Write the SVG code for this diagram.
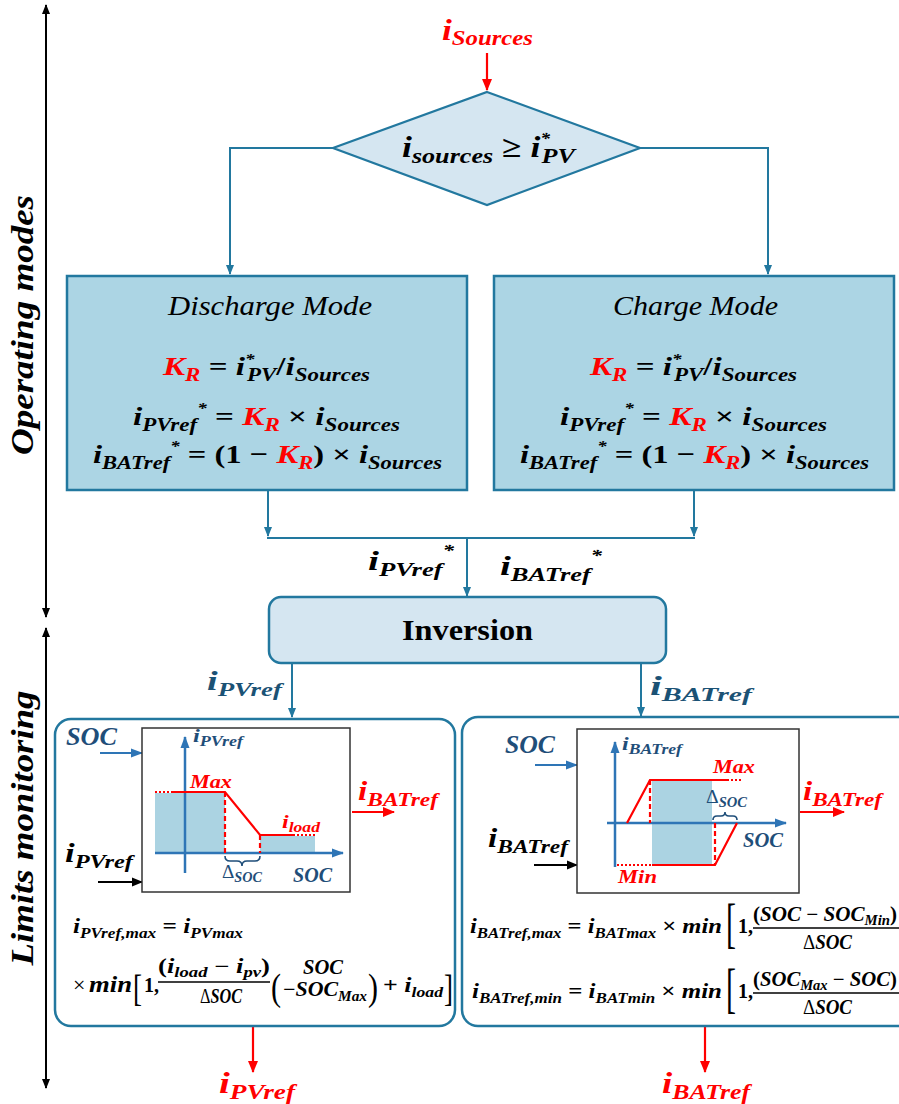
<svg xmlns="http://www.w3.org/2000/svg" width="899" height="1104" viewBox="0 0 899 1104">
<defs>
<style>
.m{font-family:"Liberation Serif","DejaVu Serif",serif;font-weight:bold;font-style:italic}
.u{font-style:normal}
.n{font-weight:normal;font-style:normal}
.r{fill:#ff0000}
.db{fill:#1f4e79}
.tl{fill:#1b5275}
.teal{stroke:#22789f;stroke-width:2;fill:none}
.red{stroke:#ff0000;stroke-width:2.2;fill:none}
.blk{stroke:#000;stroke-width:2;fill:none}
.ax{stroke:#2e75b6;stroke-width:2.5;fill:none}
.gf{fill:#abd3e2}
.br{font-family:"Liberation Serif","DejaVu Serif",serif;font-weight:normal}
</style>
<marker id="aT" markerWidth="10" markerHeight="10" refX="9" refY="5" orient="auto" markerUnits="userSpaceOnUse"><path d="M0,1 L10,5 L0,9 z" fill="#22789f"/></marker>
<marker id="aR" markerWidth="12" markerHeight="12" refX="11" refY="6" orient="auto" markerUnits="userSpaceOnUse"><path d="M0,1 L12,6 L0,11 z" fill="#ff0000"/></marker>
<marker id="aK" markerWidth="11" markerHeight="11" refX="10" refY="5.5" orient="auto" markerUnits="userSpaceOnUse"><path d="M0,1 L11,5.5 L0,10 z" fill="#000"/></marker>
<marker id="aKd" markerWidth="10" markerHeight="10" refX="9" refY="5" orient="auto-start-reverse" markerUnits="userSpaceOnUse"><path d="M0,1 L10,5 L0,9 z" fill="#000"/></marker>
<marker id="aB" markerWidth="12" markerHeight="12" refX="11" refY="6" orient="auto" markerUnits="userSpaceOnUse"><path d="M0,1.5 L12,6 L0,10.5 z" fill="#2e75b6"/></marker>
</defs>
<rect width="899" height="1104" fill="#fff"/>

<!-- side labels -->
<g id="side">
<line x1="46" y1="5" x2="46" y2="617" class="blk" marker-start="url(#aKd)" marker-end="url(#aKd)"/>
<line x1="46" y1="628" x2="46" y2="1088" class="blk" marker-start="url(#aKd)" marker-end="url(#aKd)"/>
<text class="m" font-size="32" text-anchor="middle" transform="translate(33,325) rotate(-90)" textLength="260" lengthAdjust="spacingAndGlyphs">Operating modes</text>
<text class="m" font-size="32" text-anchor="middle" transform="translate(33,828) rotate(-90)" textLength="275" lengthAdjust="spacingAndGlyphs">Limits monitoring</text>
</g>

<!-- connectors -->
<g id="connectors">
<line x1="487" y1="53" x2="487" y2="90" class="red" marker-end="url(#aR)"/>
<polyline points="333,148 230,148 230,274" class="teal" marker-end="url(#aT)"/>
<polyline points="640,148 768,148 768,274" class="teal" marker-end="url(#aT)"/>
<line x1="268" y1="490" x2="268" y2="536" class="teal" marker-end="url(#aT)"/>
<line x1="694" y1="490" x2="694" y2="536" class="teal" marker-end="url(#aT)"/>
<line x1="267" y1="538" x2="695" y2="538" class="teal"/>
<line x1="467" y1="538" x2="467" y2="596" class="teal" marker-end="url(#aT)"/>
<line x1="292" y1="663" x2="292" y2="717" class="teal" marker-end="url(#aT)"/>
<line x1="641" y1="663" x2="641" y2="716" class="teal" marker-end="url(#aT)"/>
<line x1="253" y1="1026" x2="253" y2="1072" class="red" marker-end="url(#aR)"/>
<line x1="705" y1="1026" x2="705" y2="1072" class="red" marker-end="url(#aR)"/>
</g>

<!-- top label -->
<g id="src">
<text class="m r" x="442" y="40" font-size="30" textLength="91" lengthAdjust="spacingAndGlyphs">i<tspan font-size="21" dy="5">Sources</tspan></text>
</g>

<!-- decision -->
<g id="decision">
<polygon points="487,92 640,148 487,205 333,148" fill="#d5e6f1" stroke="#22789f" stroke-width="2.2"/>
<text class="m" x="402" y="157" font-size="30" textLength="173" lengthAdjust="spacingAndGlyphs">i<tspan font-size="22" dy="6">sources</tspan><tspan class="u" dy="-6"> ≥ </tspan>i<tspan font-size="16" dy="-13">*</tspan><tspan font-size="22" dx="-7" dy="19">PV</tspan></text>
</g>

<!-- discharge mode -->
<g id="discharge">
<rect x="67" y="276" width="400" height="214" fill="#acd5e4" stroke="#22789f" stroke-width="2.5"/>
<text x="168" y="315" font-family="Liberation Serif, serif" font-style="italic" font-size="28" textLength="204" lengthAdjust="spacingAndGlyphs">Discharge Mode</text>
<text class="m" x="163" y="375" font-size="26" textLength="207" lengthAdjust="spacingAndGlyphs"><tspan class="r">K</tspan><tspan class="r" font-size="18" dy="6">R</tspan><tspan class="u" dy="-6"> = </tspan>i<tspan font-size="15" dy="-11">*</tspan><tspan font-size="18" dx="-6" dy="17">PV</tspan><tspan class="u" dy="-6">/</tspan>i<tspan font-size="18" dy="6">Sources</tspan></text>
<text class="m" x="133" y="425" font-size="26" textLength="267" lengthAdjust="spacingAndGlyphs">i<tspan font-size="18" dy="6">PVref</tspan><tspan font-size="15" dy="-18">*</tspan><tspan class="u" dy="12"> = </tspan><tspan class="r">K</tspan><tspan class="r" font-size="18" dy="6">R</tspan><tspan class="u" dy="-6"> × </tspan>i<tspan font-size="18" dy="6">Sources</tspan></text>
<text class="m" x="93" y="463" font-size="26" textLength="349" lengthAdjust="spacingAndGlyphs">i<tspan font-size="18" dy="6">BATref</tspan><tspan font-size="15" dy="-18">*</tspan><tspan class="u" dy="12"> = (1 − </tspan><tspan class="r">K</tspan><tspan class="r" font-size="18" dy="6">R</tspan><tspan class="u" dy="-6">) × </tspan>i<tspan font-size="18" dy="6">Sources</tspan></text>
</g>

<!-- charge mode -->
<g id="charge">
<rect x="494" y="276" width="400" height="214" fill="#acd5e4" stroke="#22789f" stroke-width="2.5"/>
<text x="613" y="315" font-family="Liberation Serif, serif" font-style="italic" font-size="28" textLength="165" lengthAdjust="spacingAndGlyphs">Charge Mode</text>
<text class="m" x="590" y="375" font-size="26" textLength="207" lengthAdjust="spacingAndGlyphs"><tspan class="r">K</tspan><tspan class="r" font-size="18" dy="6">R</tspan><tspan class="u" dy="-6"> = </tspan>i<tspan font-size="15" dy="-11">*</tspan><tspan font-size="18" dx="-6" dy="17">PV</tspan><tspan class="u" dy="-6">/</tspan>i<tspan font-size="18" dy="6">Sources</tspan></text>
<text class="m" x="560" y="425" font-size="26" textLength="267" lengthAdjust="spacingAndGlyphs">i<tspan font-size="18" dy="6">PVref</tspan><tspan font-size="15" dy="-18">*</tspan><tspan class="u" dy="12"> = </tspan><tspan class="r">K</tspan><tspan class="r" font-size="18" dy="6">R</tspan><tspan class="u" dy="-6"> × </tspan>i<tspan font-size="18" dy="6">Sources</tspan></text>
<text class="m" x="520" y="463" font-size="26" textLength="349" lengthAdjust="spacingAndGlyphs">i<tspan font-size="18" dy="6">BATref</tspan><tspan font-size="15" dy="-18">*</tspan><tspan class="u" dy="12"> = (1 − </tspan><tspan class="r">K</tspan><tspan class="r" font-size="18" dy="6">R</tspan><tspan class="u" dy="-6">) × </tspan>i<tspan font-size="18" dy="6">Sources</tspan></text>
</g>

<!-- merge labels -->
<g id="refs">
<text class="m" x="368" y="570" font-size="28" textLength="86" lengthAdjust="spacingAndGlyphs">i<tspan font-size="19" dy="6">PVref</tspan><tspan font-size="16" dy="-20">*</tspan></text>
<text class="m" x="500" y="575" font-size="28" textLength="102" lengthAdjust="spacingAndGlyphs">i<tspan font-size="19" dy="6">BATref</tspan><tspan font-size="16" dy="-20">*</tspan></text>
</g>

<!-- inversion -->
<g id="inversion">
<rect x="269" y="597" width="397" height="66" rx="12" fill="#d5e6f1" stroke="#22789f" stroke-width="2.5"/>
<text x="402" y="640" font-family="Liberation Serif, serif" font-weight="bold" font-size="30" textLength="131" lengthAdjust="spacingAndGlyphs">Inversion</text>
</g>

<g id="outlabels">
<text class="m tl" x="207" y="690" font-size="27" textLength="75" lengthAdjust="spacingAndGlyphs">i<tspan font-size="19" dy="6">PVref</tspan></text>
<text class="m tl" x="650" y="695" font-size="27" textLength="102" lengthAdjust="spacingAndGlyphs">i<tspan font-size="19" dy="6">BATref</tspan></text>
</g>

<!-- PV limiter -->
<g id="pvlimit">
<rect x="55" y="719" width="400" height="307" rx="16" fill="#fff" stroke="#22789f" stroke-width="2.5"/>
<text class="m db" x="66" y="745" font-size="25" textLength="51" lengthAdjust="spacingAndGlyphs">SOC</text>
<line x1="100" y1="753" x2="142" y2="753" stroke="#2e75b6" stroke-width="2.2" marker-end="url(#aB)"/>
<text class="m" x="65" y="862" font-size="27" textLength="68" lengthAdjust="spacingAndGlyphs">i<tspan font-size="19" dy="6">PVref</tspan></text>
<line x1="98" y1="882" x2="142" y2="882" class="blk" marker-end="url(#aK)"/>
<rect x="142" y="728" width="208" height="164" fill="#fff" stroke="#333" stroke-width="1.5"/>
<rect x="155" y="793" width="70" height="60" class="gf"/>
<rect x="260" y="836" width="55" height="17" class="gf"/>
<line x1="185" y1="873" x2="185" y2="737" class="ax" marker-end="url(#aB)"/>
<line x1="155" y1="853" x2="343" y2="853" class="ax" marker-end="url(#aB)"/>
<line x1="155" y1="792" x2="173" y2="792" class="red" stroke-dasharray="2,2"/>
<polyline points="173,792 225,792 260,835 293,835" class="red"/>
<line x1="293" y1="835" x2="317" y2="835" class="red" stroke-dasharray="2,2"/>
<line x1="225" y1="792" x2="225" y2="853" class="red" stroke-dasharray="5,3"/>
<line x1="260" y1="835" x2="260" y2="853" class="red" stroke-dasharray="5,3"/>
<path d="M225,856 Q225,861 230,861 L237,861 Q242,861 242,866 Q242,861 247,861 L255,861 Q260,861 260,856" fill="none" stroke="#1f4e79" stroke-width="1.6"/>
<text class="m db" x="193" y="742" font-size="19" textLength="50" lengthAdjust="spacingAndGlyphs">i<tspan font-size="14" dy="4">PVref</tspan></text>
<text class="m r" x="190" y="788" font-size="19" textLength="42" lengthAdjust="spacingAndGlyphs">Max</text>
<text class="m r" x="282" y="828" font-size="19" textLength="38" lengthAdjust="spacingAndGlyphs">i<tspan font-size="14" dy="4">load</tspan></text>
<text class="m db" x="222" y="878" font-size="19" textLength="40" lengthAdjust="spacingAndGlyphs"><tspan class="n">Δ</tspan><tspan font-size="14" dy="4">SOC</tspan></text>
<text class="m db" x="293" y="882" font-size="20" textLength="39" lengthAdjust="spacingAndGlyphs">SOC</text>
<text class="m r" x="358" y="800" font-size="27" textLength="80" lengthAdjust="spacingAndGlyphs">i<tspan font-size="19" dy="6">BATref</tspan></text>
<line x1="352" y1="812" x2="394" y2="812" class="red" marker-end="url(#aR)"/>
<text class="m" x="73" y="933" font-size="22" textLength="170" lengthAdjust="spacingAndGlyphs">i<tspan font-size="15" dy="5">PVref,max</tspan><tspan class="u" dy="-5"> = </tspan>i<tspan font-size="15" dy="5">PVmax</tspan></text>
<text class="br" x="73" y="992" font-size="22">×</text>
<text class="m" x="89" y="992" font-size="24" textLength="43" lengthAdjust="spacingAndGlyphs">min</text>
<text class="br" x="133" y="1001" font-size="38" textLength="9" lengthAdjust="spacingAndGlyphs">[</text>
<text x="144" y="992" font-family="Liberation Serif, serif" font-weight="bold" font-size="20">1,</text>
<text class="m" x="158" y="973" font-size="20" textLength="112" lengthAdjust="spacingAndGlyphs"><tspan class="u">(</tspan>i<tspan font-size="14" dy="4">load</tspan><tspan class="u" dy="-4"> − </tspan>i<tspan font-size="14" dy="4">pv</tspan><tspan class="u" dy="-4">)</tspan></text>
<line x1="158" y1="982" x2="270" y2="982" stroke="#000" stroke-width="1.5"/>
<text class="m" x="200" y="1003" font-size="20" textLength="42" lengthAdjust="spacingAndGlyphs"><tspan class="n">Δ</tspan>SOC</text>
<text class="br" x="271" y="1000" font-size="38" textLength="10" lengthAdjust="spacingAndGlyphs">(</text>
<text class="m" x="303" y="974" font-size="20" textLength="40" lengthAdjust="spacingAndGlyphs">SOC</text>
<text class="m" x="283" y="996" font-size="20" textLength="84" lengthAdjust="spacingAndGlyphs"><tspan class="u">−</tspan>SOC<tspan font-size="14" dy="5">Max</tspan></text>
<text class="br" x="368" y="1000" font-size="38" textLength="10" lengthAdjust="spacingAndGlyphs">)</text>
<text class="m" x="383" y="992" font-size="22" textLength="60" lengthAdjust="spacingAndGlyphs"><tspan class="u">+ </tspan>i<tspan font-size="15" dy="5">load</tspan></text>
<text class="br" x="444" y="1001" font-size="38" textLength="9" lengthAdjust="spacingAndGlyphs">]</text>
<text class="m r" x="219" y="1093" font-size="30" textLength="76" lengthAdjust="spacingAndGlyphs">i<tspan font-size="21" dy="6">PVref</tspan></text>
</g>

<!-- BAT limiter -->
<g id="batlimit">
<rect x="462" y="717" width="452" height="309" rx="16" fill="#fff" stroke="#22789f" stroke-width="2.5"/>
<text class="m db" x="505" y="753" font-size="25" textLength="50" lengthAdjust="spacingAndGlyphs">SOC</text>
<line x1="535" y1="765" x2="577" y2="765" stroke="#2e75b6" stroke-width="2.2" marker-end="url(#aB)"/>
<text class="m" x="488" y="847" font-size="27" textLength="80" lengthAdjust="spacingAndGlyphs">i<tspan font-size="19" dy="6">BATref</tspan></text>
<line x1="534" y1="865" x2="577" y2="865" class="blk" marker-end="url(#aK)"/>
<rect x="577" y="729" width="222" height="164" fill="#fff" stroke="#333" stroke-width="1.5"/>
<rect x="652" y="780" width="60" height="85" class="gf"/>
<line x1="615" y1="867" x2="615" y2="742" class="ax" marker-end="url(#aB)"/>
<line x1="607" y1="823" x2="786" y2="823" class="ax" marker-end="url(#aB)"/>
<polyline points="627,823 650,780 727,780" class="red"/>
<line x1="727" y1="780" x2="743" y2="780" class="red" stroke-dasharray="2,2"/>
<line x1="650" y1="780" x2="650" y2="823" class="red" stroke-dasharray="5,3"/>
<line x1="617" y1="865" x2="652" y2="865" class="red" stroke-dasharray="2,2"/>
<polyline points="652,865 715,865 737,823" class="red"/>
<line x1="715" y1="823" x2="715" y2="865" class="red" stroke-dasharray="5,3"/>
<path d="M713,820 Q713,816 717,816 L721,816 Q725,816 725,812 Q725,816 729,816 L733,816 Q737,816 737,820" fill="none" stroke="#1f4e79" stroke-width="1.6"/>
<text class="m db" x="622" y="750" font-size="19" textLength="60" lengthAdjust="spacingAndGlyphs">i<tspan font-size="14" dy="4">BATref</tspan></text>
<text class="m r" x="713" y="773" font-size="19" textLength="42" lengthAdjust="spacingAndGlyphs">Max</text>
<text class="m db" x="706" y="803" font-size="19" textLength="41" lengthAdjust="spacingAndGlyphs"><tspan class="n">Δ</tspan><tspan font-size="14" dy="4">SOC</tspan></text>
<text class="m db" x="743" y="847" font-size="20" textLength="40" lengthAdjust="spacingAndGlyphs">SOC</text>
<text class="m r" x="618" y="883" font-size="19" textLength="39" lengthAdjust="spacingAndGlyphs">Min</text>
<text class="m r" x="803" y="800" font-size="27" textLength="79" lengthAdjust="spacingAndGlyphs">i<tspan font-size="19" dy="6">BATref</tspan></text>
<line x1="800" y1="812" x2="844" y2="812" class="red" marker-end="url(#aR)"/>
<text class="m" x="470" y="933" font-size="22" textLength="252" lengthAdjust="spacingAndGlyphs">i<tspan font-size="15" dy="5">BATref,max</tspan><tspan class="u" dy="-5"> = </tspan>i<tspan font-size="15" dy="5">BATmax</tspan><tspan class="u" dy="-5"> × </tspan>min</text>
<text class="br" x="726" y="942" font-size="54" textLength="10" lengthAdjust="spacingAndGlyphs">[</text>
<text x="738" y="933" font-family="Liberation Serif, serif" font-weight="bold" font-size="20">1,</text>
<text class="m" x="753" y="921" font-size="20" textLength="144" lengthAdjust="spacingAndGlyphs"><tspan class="u">(</tspan>SOC<tspan class="u"> − </tspan>SOC<tspan font-size="14" dy="4">Min</tspan><tspan class="u" dy="-4">)</tspan></text>
<line x1="753" y1="928" x2="899" y2="928" stroke="#000" stroke-width="1.5"/>
<text class="m" x="803" y="949" font-size="20" textLength="49" lengthAdjust="spacingAndGlyphs"><tspan class="n">Δ</tspan>SOC</text>
<text class="m" x="472" y="998" font-size="22" textLength="250" lengthAdjust="spacingAndGlyphs">i<tspan font-size="15" dy="5">BATref,min</tspan><tspan class="u" dy="-5"> = </tspan>i<tspan font-size="15" dy="5">BATmin</tspan><tspan class="u" dy="-5"> × </tspan>min</text>
<text class="br" x="726" y="1007" font-size="54" textLength="10" lengthAdjust="spacingAndGlyphs">[</text>
<text x="738" y="998" font-family="Liberation Serif, serif" font-weight="bold" font-size="20">1,</text>
<text class="m" x="753" y="986" font-size="20" textLength="144" lengthAdjust="spacingAndGlyphs"><tspan class="u">(</tspan>SOC<tspan font-size="14" dy="4">Max</tspan><tspan class="u" dy="-4"> − </tspan>SOC<tspan class="u">)</tspan></text>
<line x1="753" y1="993" x2="899" y2="993" stroke="#000" stroke-width="1.5"/>
<text class="m" x="803" y="1014" font-size="20" textLength="49" lengthAdjust="spacingAndGlyphs"><tspan class="n">Δ</tspan>SOC</text>
<text class="m r" x="662" y="1093" font-size="30" textLength="88" lengthAdjust="spacingAndGlyphs">i<tspan font-size="21" dy="6">BATref</tspan></text>
</g>
</svg>
